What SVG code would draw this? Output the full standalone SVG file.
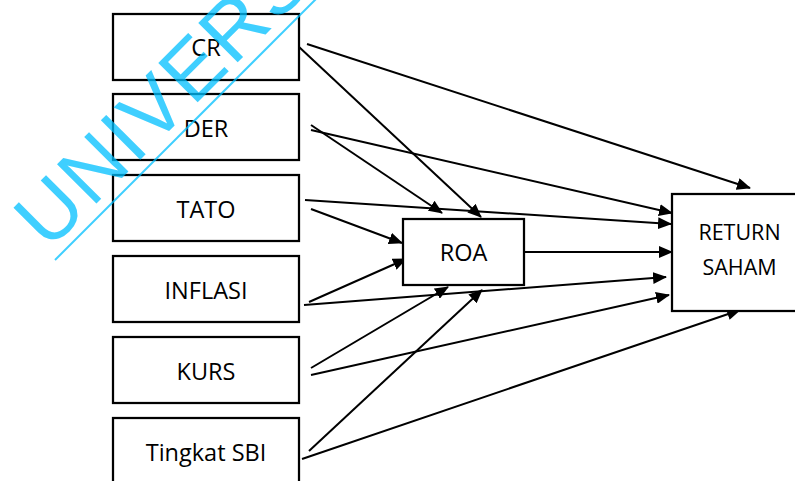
<svg xmlns="http://www.w3.org/2000/svg" width="795" height="481" viewBox="0 0 795 481">
  <style>
    .box { fill: #ffffff; stroke: #000000; stroke-width: 2.25; }
    .lbl { font-family: "Open Sans", "Liberation Sans", sans-serif; font-size: 23.5px; fill: #000000; text-anchor: middle; }
    .lbl-s { font-size: 21.5px; }
    .edge { stroke: #000000; stroke-width: 2; fill: none; marker-end: url(#head); }
    .mark { font-family: "Liberation Sans", Arial, sans-serif; font-size: 81px; letter-spacing: 2.7px; fill: #00C0FF; }
  </style>
  <defs>
    <marker id="head" viewBox="0 0 14 12" refX="13" refY="6" markerWidth="14" markerHeight="12" markerUnits="userSpaceOnUse" orient="auto">
      <path d="M0,0 L14,6 L0,12 Z" fill="#000000"/>
    </marker>
  </defs>
  <rect width="795" height="481" fill="#ffffff"/>

  <!-- connectors -->
  <g id="connectors">
    <line class="edge" x1="307" y1="44" x2="750" y2="188"/>
    <line class="edge" x1="298" y1="46" x2="481" y2="217"/>
    <line class="edge" x1="311" y1="125" x2="442" y2="213"/>
    <line class="edge" x1="311" y1="130" x2="672" y2="213"/>
    <line class="edge" x1="305" y1="200" x2="671" y2="224"/>
    <line class="edge" x1="311" y1="209" x2="402" y2="243"/>
    <line class="edge" x1="309" y1="302" x2="406" y2="259"/>
    <line class="edge" x1="304" y1="305" x2="666" y2="277"/>
    <line class="edge" x1="311" y1="368" x2="448" y2="287"/>
    <line class="edge" x1="311" y1="375" x2="669" y2="295"/>
    <line class="edge" x1="309" y1="451" x2="482" y2="290"/>
    <line class="edge" x1="302" y1="459" x2="740" y2="310"/>
    <line class="edge" x1="524" y1="252" x2="672" y2="252"/>
  </g>

  <!-- independent variables -->
  <g id="cr">
    <rect class="box" x="113" y="14" width="186" height="66"/>
    <text class="lbl" x="206" y="56">CR</text>
  </g>
  <g id="der">
    <rect class="box" x="113" y="94" width="186" height="66"/>
    <text class="lbl" x="206" y="137">DER</text>
  </g>
  <g id="tato">
    <rect class="box" x="113" y="175" width="186" height="66"/>
    <text class="lbl" x="206" y="218">TATO</text>
  </g>
  <g id="inflasi">
    <rect class="box" x="113" y="256" width="186" height="66"/>
    <text class="lbl" x="206" y="299">INFLASI</text>
  </g>
  <g id="kurs">
    <rect class="box" x="113" y="337" width="186" height="66"/>
    <text class="lbl" x="206" y="379.5">KURS</text>
  </g>
  <g id="sbi">
    <rect class="box" x="113" y="418" width="186" height="66"/>
    <text class="lbl" x="206" y="460.5">Tingkat SBI</text>
  </g>

  <!-- intervening variable -->
  <g id="roa">
    <rect class="box" x="403" y="219" width="121" height="66"/>
    <text class="lbl" x="463.5" y="261">ROA</text>
  </g>

  <!-- dependent variable -->
  <g id="return-saham">
    <rect class="box" x="672" y="194" width="140" height="117"/>
    <text class="lbl lbl-s" x="739.5" y="240">RETURN</text>
    <text class="lbl lbl-s" x="739.5" y="275">SAHAM</text>
  </g>

  <!-- diagonal watermark -->
  <g id="watermark" opacity="0.75">
    <text class="mark" transform="translate(48.4,251.6) rotate(-45)">UNIVERS</text>
    <line x1="55" y1="260" x2="330" y2="-15" stroke="#00C0FF" stroke-width="2"/>
  </g>
</svg>
